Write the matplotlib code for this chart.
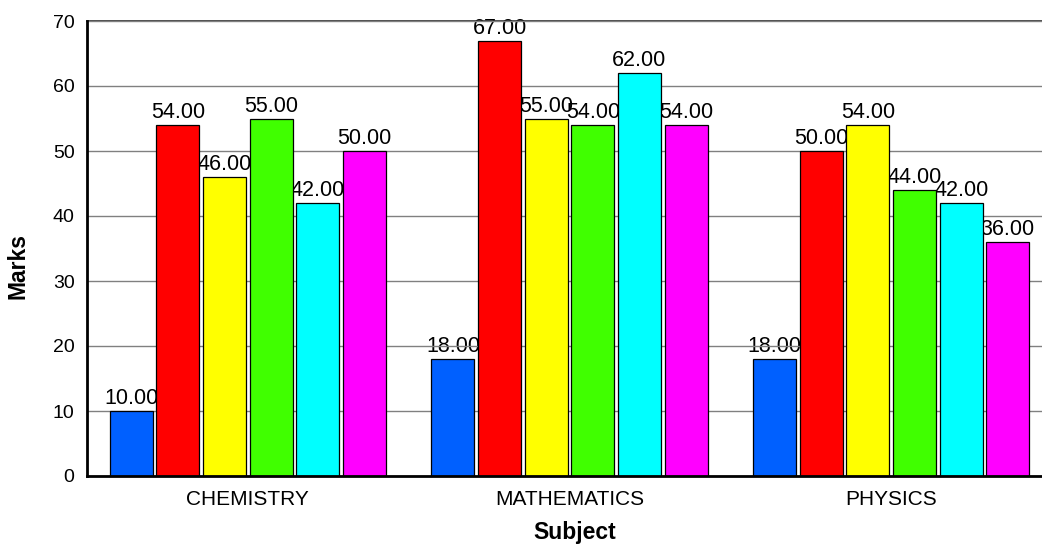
import matplotlib
matplotlib.use("Agg")
import matplotlib.pyplot as plt
import numpy as np

plt.rcParams['font.family'] = ['Liberation Sans', 'DejaVu Sans']

subjects = ["CHEMISTRY", "MATHEMATICS", "PHYSICS"]
series1 = [10, 18, 18]
series2 = [54, 67, 50]
series3 = [46, 55, 54]
series4 = [55, 54, 44]
series5 = [42, 62, 42]
series6 = [50, 54, 36]
all_series = [series1, series2, series3, series4, series5, series6]
colors = ["#0060FF", "#FF0000", "#FFFF00", "#40FF00", "#00FFFF", "#FF00FF"]

fig = plt.figure(figsize=(10.42, 5.47), dpi=100)
ax = fig.add_axes([87/1042, 1-476/547, (1052-87)/1042, (476-21)/547])

x = np.arange(len(subjects))
pitch = 0.145
width = 0.134
for j, (vals, c) in enumerate(zip(all_series, colors)):
    pos = x + (j - 2.5) * pitch
    ax.bar(pos, vals, width=width, color=c, edgecolor="black", linewidth=0.9, zorder=3)
    for p, v in zip(pos, vals):
        ax.text(p, v + 0.25, f"{v:.2f}", ha="center", va="bottom", fontsize=15.5, zorder=0.5)

ax.set_xlim(-0.5, 2.5)
ax.set_ylim(0, 70)
ax.set_yticks(range(0, 71, 10))
ax.set_xticks(x)
ax.set_xticklabels(subjects)
ax.tick_params(axis="y", length=0, labelsize=14, pad=9)
ax.tick_params(axis="x", length=0, labelsize=15, pad=10)
ax.grid(axis="y", color="#808080", linewidth=1, zorder=1)
ax.set_axisbelow(False)
for line in ax.get_ygridlines():
    line.set_zorder(1)
ax.spines["right"].set_visible(False)
ax.spines["top"].set_color("#333333")
ax.spines["top"].set_linewidth(1.2)
ax.spines["left"].set_linewidth(2)
ax.spines["bottom"].set_linewidth(2)
ax.spines["left"].set_zorder(4)
ax.spines["bottom"].set_zorder(4)

fig.text(18/1042, 1-266/547, "Marks", fontsize=16.5, fontweight="bold", ha="center", va="center", rotation=90)
fig.text(575/1042, 1-533/547, "Subject", fontsize=16.5, fontweight="bold", ha="center", va="center")

fig.savefig("out.png", dpi=100)
